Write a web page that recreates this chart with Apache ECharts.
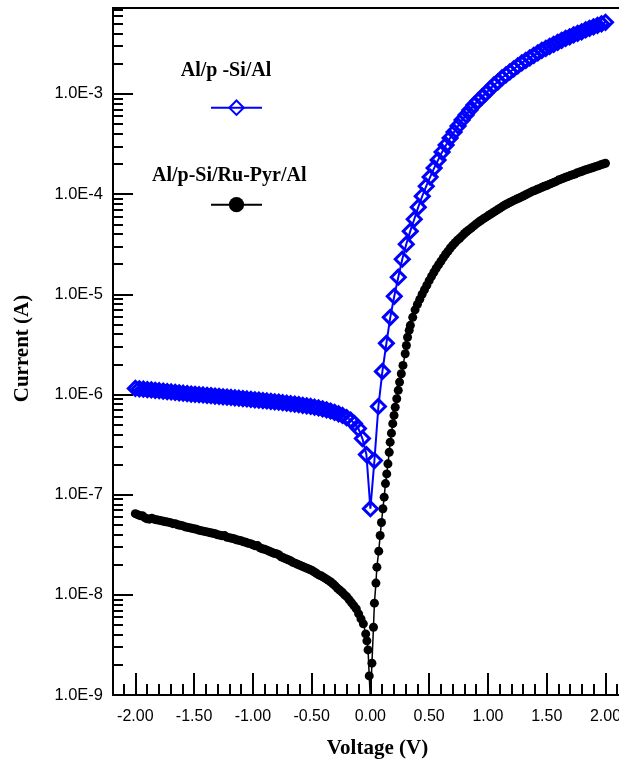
<!DOCTYPE html>
<html>
<head>
<meta charset="utf-8">
<script src="https://cdn.jsdelivr.net/npm/echarts@6/dist/echarts.min.js"></script>
<style>
html,body{margin:0;padding:0;background:#fff;}
#chart{width:619px;height:760px;}
</style>
</head>
<body>
<div id="chart"></div>
<script>
// ---------- data ----------
const seriesNames = ['Al/p -Si/Al', 'Al/p-Si/Ru-Pyr/Al'];
const xAxisTitle = 'Voltage (V)';
const yAxisTitle = 'Current (A)';
const xMajorTicks = [-2.0, -1.5, -1.0, -0.5, 0.0, 0.5, 1.0, 1.5, 2.0];
const xMinorTicks = [-2.1, -1.9, -1.8, -1.7, -1.6, -1.4, -1.3, -1.2, -1.1, -0.9, -0.8, -0.7, -0.6,
  -0.4, -0.3, -0.2, -0.1, 0.1, 0.2, 0.3, 0.4, 0.6, 0.7, 0.8, 0.9, 1.1, 1.2, 1.3, 1.4, 1.6, 1.7, 1.8, 1.9, 2.1];
const yTickExponents = [-9, -8, -7, -6, -5, -4, -3];

// Al/p-Si/Al (blue diamonds): voltage (V) and current (A)
const blueV = [
  -2.000,-1.966,-1.932,-1.898,-1.864,-1.831,-1.797,-1.763,-1.729,-1.695,
  -1.661,-1.627,-1.593,-1.559,-1.525,-1.492,-1.458,-1.424,-1.390,-1.356,
  -1.322,-1.288,-1.254,-1.220,-1.186,-1.153,-1.119,-1.085,-1.051,-1.017,
  -0.983,-0.949,-0.915,-0.881,-0.847,-0.814,-0.780,-0.746,-0.712,-0.678,
  -0.644,-0.610,-0.576,-0.542,-0.508,-0.475,-0.441,-0.407,-0.373,-0.339,
  -0.305,-0.271,-0.237,-0.203,-0.169,-0.136,-0.102,-0.068,-0.034,
  0.000,
  0.034,0.068,0.102,0.136,0.169,0.203,0.237,0.271,0.305,0.339,
  0.373,0.407,0.441,0.475,0.508,0.542,0.576,0.610,0.644,0.678,
  0.712,0.746,0.780,0.814,0.847,0.881,0.915,0.949,0.983,1.017,
  1.051,1.085,1.119,1.153,1.186,1.220,1.254,1.288,1.322,1.356,
  1.390,1.424,1.458,1.492,1.525,1.559,1.593,1.627,1.661,1.695,
  1.729,1.763,1.797,1.831,1.864,1.898,1.932,1.966,2.000
];
const blueI = [
  1.15e-6,1.14e-6,1.13e-6,1.12e-6,1.11e-6,1.10e-6,1.09e-6,1.08e-6,1.07e-6,1.06e-6,
  1.05e-6,1.04e-6,1.03e-6,1.02e-6,1.01e-6,1.005e-6,9.95e-7,9.89e-7,9.79e-7,9.73e-7,
  9.64e-7,9.57e-7,9.48e-7,9.42e-7,9.33e-7,9.27e-7,9.18e-7,9.10e-7,9.02e-7,8.93e-7,
  8.85e-7,8.77e-7,8.69e-7,8.61e-7,8.53e-7,8.45e-7,8.38e-7,8.28e-7,8.18e-7,8.09e-7,
  8.00e-7,7.91e-7,7.80e-7,7.69e-7,7.59e-7,7.46e-7,7.33e-7,7.18e-7,7.02e-7,6.84e-7,
  6.64e-7,6.41e-7,6.17e-7,5.89e-7,5.56e-7,5.13e-7,4.57e-7,3.63e-7,2.51e-7,
  7.24e-8,
  2.19e-7,7.59e-7,1.70e-6,3.24e-6,5.89e-6,9.55e-6,1.48e-5,2.24e-5,3.16e-5,4.27e-5,
  5.62e-5,7.41e-5,9.55e-5,1.20e-4,1.48e-4,1.82e-4,2.19e-4,2.63e-4,3.09e-4,3.63e-4,
  4.17e-4,4.79e-4,5.50e-4,6.17e-4,6.92e-4,7.76e-4,8.51e-4,9.33e-4,1.02e-3,1.12e-3,
  1.23e-3,1.32e-3,1.45e-3,1.55e-3,1.66e-3,1.78e-3,1.91e-3,2.04e-3,2.16e-3,2.29e-3,
  2.43e-3,2.57e-3,2.72e-3,2.85e-3,2.99e-3,3.13e-3,3.27e-3,3.43e-3,3.59e-3,3.72e-3,
  3.89e-3,4.03e-3,4.17e-3,4.37e-3,4.52e-3,4.68e-3,4.84e-3,5.01e-3,5.19e-3
];

// Al/p-Si/Ru-Pyr/Al (black dots): voltage (V) and current (A)
const blackV = [
  -2.00,-1.98,-1.96,-1.94,-1.92,-1.90,-1.88,-1.86,-1.84,-1.82,
  -1.80,-1.78,-1.76,-1.74,-1.72,-1.70,-1.68,-1.66,-1.64,-1.62,
  -1.60,-1.58,-1.56,-1.54,-1.52,-1.50,-1.48,-1.46,-1.44,-1.42,
  -1.40,-1.38,-1.36,-1.34,-1.32,-1.30,-1.28,-1.26,-1.24,-1.22,
  -1.20,-1.18,-1.16,-1.14,-1.12,-1.10,-1.08,-1.06,-1.04,-1.02,
  -1.00,-0.98,-0.96,-0.94,-0.92,-0.90,-0.88,-0.86,-0.84,-0.82,
  -0.80,-0.78,-0.76,-0.74,-0.72,-0.70,-0.68,-0.66,-0.64,-0.62,
  -0.60,-0.58,-0.56,-0.54,-0.52,-0.50,-0.48,-0.46,-0.44,-0.42,
  -0.40,-0.38,-0.36,-0.34,-0.32,-0.30,-0.28,-0.26,-0.24,-0.22,
  -0.20,-0.18,-0.16,-0.14,-0.12,-0.10,-0.08,-0.06,-0.04,-0.03,
  -0.02,-0.01,0.00,
  0.013,0.026,0.034,0.047,0.055,0.071,0.083,0.094,0.106,0.117,
  0.128,0.139,0.149,0.160,0.168,0.179,0.190,0.201,0.211,0.224,
  0.237,0.248,0.263,0.277,0.296,0.306,0.316,0.330,
  0.34,0.36,0.38,0.40,0.42,0.44,0.46,0.48,0.50,0.52,
  0.54,0.56,0.58,0.60,0.62,0.64,0.66,0.68,0.70,0.72,
  0.74,0.76,0.78,0.80,0.82,0.84,0.86,0.88,0.90,0.92,
  0.94,0.96,0.98,1.00,1.02,1.04,1.06,1.08,1.10,1.12,
  1.14,1.16,1.18,1.20,1.22,1.24,1.26,1.28,1.30,1.32,
  1.34,1.36,1.38,1.40,1.42,1.44,1.46,1.48,1.50,1.52,
  1.54,1.56,1.58,1.60,1.62,1.64,1.66,1.68,1.70,1.72,
  1.74,1.76,1.78,1.80,1.82,1.84,1.86,1.88,1.90,1.92,
  1.94,1.96,1.98,2.00
];
const blackI = [
  6.46e-8,6.31e-8,6.17e-8,6.17e-8,5.89e-8,5.75e-8,5.69e-8,5.82e-8,5.69e-8,5.62e-8,
  5.56e-8,5.50e-8,5.43e-8,5.37e-8,5.31e-8,5.25e-8,5.13e-8,5.13e-8,5.01e-8,4.95e-8,
  4.90e-8,4.79e-8,4.73e-8,4.68e-8,4.62e-8,4.57e-8,4.52e-8,4.42e-8,4.37e-8,4.32e-8,
  4.27e-8,4.22e-8,4.17e-8,4.12e-8,4.07e-8,3.98e-8,3.94e-8,3.89e-8,3.90e-8,3.76e-8,
  3.72e-8,3.67e-8,3.63e-8,3.55e-8,3.51e-8,3.47e-8,3.39e-8,3.35e-8,3.27e-8,3.24e-8,
  3.16e-8,3.09e-8,3.10e-8,2.95e-8,2.88e-8,2.85e-8,2.79e-8,2.72e-8,2.66e-8,2.60e-8,
  2.57e-8,2.51e-8,2.40e-8,2.34e-8,2.29e-8,2.24e-8,2.19e-8,2.11e-8,2.07e-8,2.02e-8,
  1.97e-8,1.93e-8,1.88e-8,1.84e-8,1.80e-8,1.76e-8,1.70e-8,1.64e-8,1.58e-8,1.55e-8,
  1.50e-8,1.45e-8,1.40e-8,1.35e-8,1.29e-8,1.23e-8,1.16e-8,1.11e-8,1.06e-8,1.00e-8,
  9.55e-9,8.91e-9,8.32e-9,7.76e-9,7.24e-9,6.46e-9,5.75e-9,5.13e-9,4.07e-9,3.47e-9,
  2.82e-9,1.55e-9,8.9e-10,
  2.08e-9,4.75e-9,8.26e-9,1.31e-8,1.89e-8,2.73e-8,3.91e-8,5.27e-8,7.23e-8,9.44e-8,
  1.29e-7,1.61e-7,2.03e-7,2.65e-7,3.34e-7,4.11e-7,5.11e-7,6.18e-7,7.46e-7,9.06e-7,
  1.10e-6,1.33e-6,1.61e-6,1.95e-6,2.55e-6,3.08e-6,3.73e-6,4.37e-6,
  4.90e-6,5.89e-6,7.00e-6,7.94e-6,8.91e-6,1.00e-5,1.11e-5,1.23e-5,1.37e-5,1.51e-5,
  1.66e-5,1.82e-5,1.97e-5,2.14e-5,2.32e-5,2.51e-5,2.69e-5,2.90e-5,3.09e-5,3.27e-5,
  3.47e-5,3.63e-5,3.83e-5,4.04e-5,4.23e-5,4.42e-5,4.61e-5,4.82e-5,5.04e-5,5.25e-5,
  5.46e-5,5.66e-5,5.86e-5,6.07e-5,6.28e-5,6.50e-5,6.73e-5,6.97e-5,7.21e-5,7.46e-5,
  7.73e-5,7.96e-5,8.18e-5,8.41e-5,8.65e-5,8.87e-5,9.10e-5,9.33e-5,9.59e-5,9.84e-5,
  1.01e-4,1.04e-4,1.07e-4,1.09e-4,1.12e-4,1.14e-4,1.17e-4,1.20e-4,1.22e-4,1.25e-4,
  1.28e-4,1.31e-4,1.34e-4,1.38e-4,1.41e-4,1.44e-4,1.47e-4,1.50e-4,1.53e-4,1.56e-4,
  1.59e-4,1.63e-4,1.66e-4,1.69e-4,1.73e-4,1.76e-4,1.79e-4,1.82e-4,1.85e-4,1.89e-4,
  1.92e-4,1.96e-4,2.00e-4,2.03e-4
];

// ---------- build ----------
const X_MIN = -2.19, X_MAX = 2.2;
const Y_MIN = -9, Y_MAX = -2.142;   // log10(current)

function pairs(vs, is) {
  const n = Math.min(vs.length, is.length);
  const out = [];
  for (let i = 0; i < n; i++) out.push([vs[i], Math.log10(is[i])]);
  return out;
}
const yMinorTicks = [];
for (let e = -9; e <= -3; e++) {
  for (let m = 2; m <= 9; m++) {
    const l = e + Math.log10(m);
    if (l < Y_MAX) yMinorTicks.push(l);
  }
}

const tickFont = { fontSize: 16, color: '#000', fontFamily: '"Liberation Sans", Arial, sans-serif' };
const yTickFont = { fontSize: 16.5, color: '#000', fontFamily: '"Liberation Sans", Arial, sans-serif' };
const titleFont = { fontSize: 21, fontWeight: 'bold', color: '#000', fontFamily: '"Liberation Serif", "Times New Roman", serif' };
const black2 = { color: '#000', width: 2 };

const chart = echarts.init(document.getElementById('chart'), null, { renderer: 'canvas' });
chart.setOption({
  animation: false,
  backgroundColor: '#fff',
  grid: {
    left: 113, top: 8, right: -10, bottom: 65,
    show: true, borderColor: '#000', borderWidth: 2,
    containLabel: false, outerBoundsMode: 'none'
  },
  xAxis: [
    {
      type: 'value', min: X_MIN, max: X_MAX, position: 'bottom',
      axisLine: { show: true, onZero: false, lineStyle: black2 },
      axisTick: { show: true, inside: true, length: 22, lineStyle: black2, customValues: xMajorTicks },
      axisLabel: Object.assign({ show: true, margin: 14, customValues: xMajorTicks,
        formatter: v => Number(v).toFixed(2) }, tickFont),
      splitLine: { show: false },
      name: xAxisTitle, nameLocation: 'middle', nameGap: 43,
      nameTextStyle: Object.assign({ padding: [0, 0, 0, 13] }, titleFont)
    },
    {
      type: 'value', min: X_MIN, max: X_MAX, position: 'bottom',
      axisLine: { show: false, onZero: false },
      axisTick: { show: true, inside: true, length: 11, lineStyle: black2, customValues: xMinorTicks },
      axisLabel: { show: false },
      splitLine: { show: false }
    }
  ],
  yAxis: [
    {
      type: 'value', min: Y_MIN, max: Y_MAX, position: 'left',
      axisLine: { show: true, onZero: false, lineStyle: black2 },
      axisTick: { show: true, inside: true, length: 20, lineStyle: black2, customValues: yTickExponents },
      axisLabel: Object.assign({ show: true, margin: 10, customValues: yTickExponents,
        formatter: v => '1.0E' + Math.round(v) }, yTickFont),
      splitLine: { show: false },
      name: yAxisTitle, nameLocation: 'middle', nameGap: 80, nameRotate: 90,
      nameTextStyle: Object.assign({ padding: [0, 0, 0, 6] }, titleFont)
    },
    {
      type: 'value', min: Y_MIN, max: Y_MAX, position: 'left',
      axisLine: { show: false, onZero: false },
      axisTick: { show: true, inside: true, length: 10, lineStyle: black2, customValues: yMinorTicks },
      axisLabel: { show: false },
      splitLine: { show: false }
    }
  ],
  legend: [
    {
      data: [seriesNames[0]], left: 210, top: 98.7, padding: 0, itemGap: 0,
      itemWidth: 51, itemHeight: 18, selectedMode: false,
      formatter: () => '', textStyle: { fontSize: 1 },
      lineStyle: { width: 2 }
    },
    {
      data: [seriesNames[1]], left: 210, top: 195.2, padding: 0, itemGap: 0,
      itemWidth: 51, itemHeight: 19, selectedMode: false,
      formatter: () => '', textStyle: { fontSize: 1 },
      lineStyle: { width: 2 }
    }
  ],
  graphic: [
    {
      type: 'text', x: 226, y: 71, silent: true,
      style: { text: seriesNames[0], font: 'bold 20px "Liberation Serif", "Times New Roman", serif',
        fill: '#000', align: 'center', verticalAlign: 'middle', textAlign: 'center', textVerticalAlign: 'middle' }
    },
    {
      type: 'text', x: 152, y: 176, silent: true,
      style: { text: seriesNames[1], font: 'bold 20px "Liberation Serif", "Times New Roman", serif',
        fill: '#000', align: 'left', verticalAlign: 'middle', textAlign: 'left', textVerticalAlign: 'middle' }
    }
  ],
  tooltip: { show: false },
  series: [
    {
      name: seriesNames[1], type: 'line', xAxisIndex: 0, yAxisIndex: 0,
      data: pairs(blackV, blackI),
      symbol: 'circle', symbolSize: 9, showSymbol: true, clip: true,
      color: '#000',
      lineStyle: { color: '#000', width: 1.5 },
      itemStyle: { color: '#000' },
      emphasis: { disabled: true }, z: 2
    },
    {
      name: seriesNames[0], type: 'line', xAxisIndex: 0, yAxisIndex: 0,
      data: pairs(blueV, blueI),
      symbol: 'diamond', symbolSize: 14, showSymbol: true, clip: true,
      color: '#0000ff',
      lineStyle: { color: '#0000ff', width: 2 },
      itemStyle: { color: 'rgba(0,0,0,0)', borderColor: '#0000ff', borderWidth: 3 },
      emphasis: { disabled: true }, z: 3
    }
  ]
});
</script>
</body>
</html>
